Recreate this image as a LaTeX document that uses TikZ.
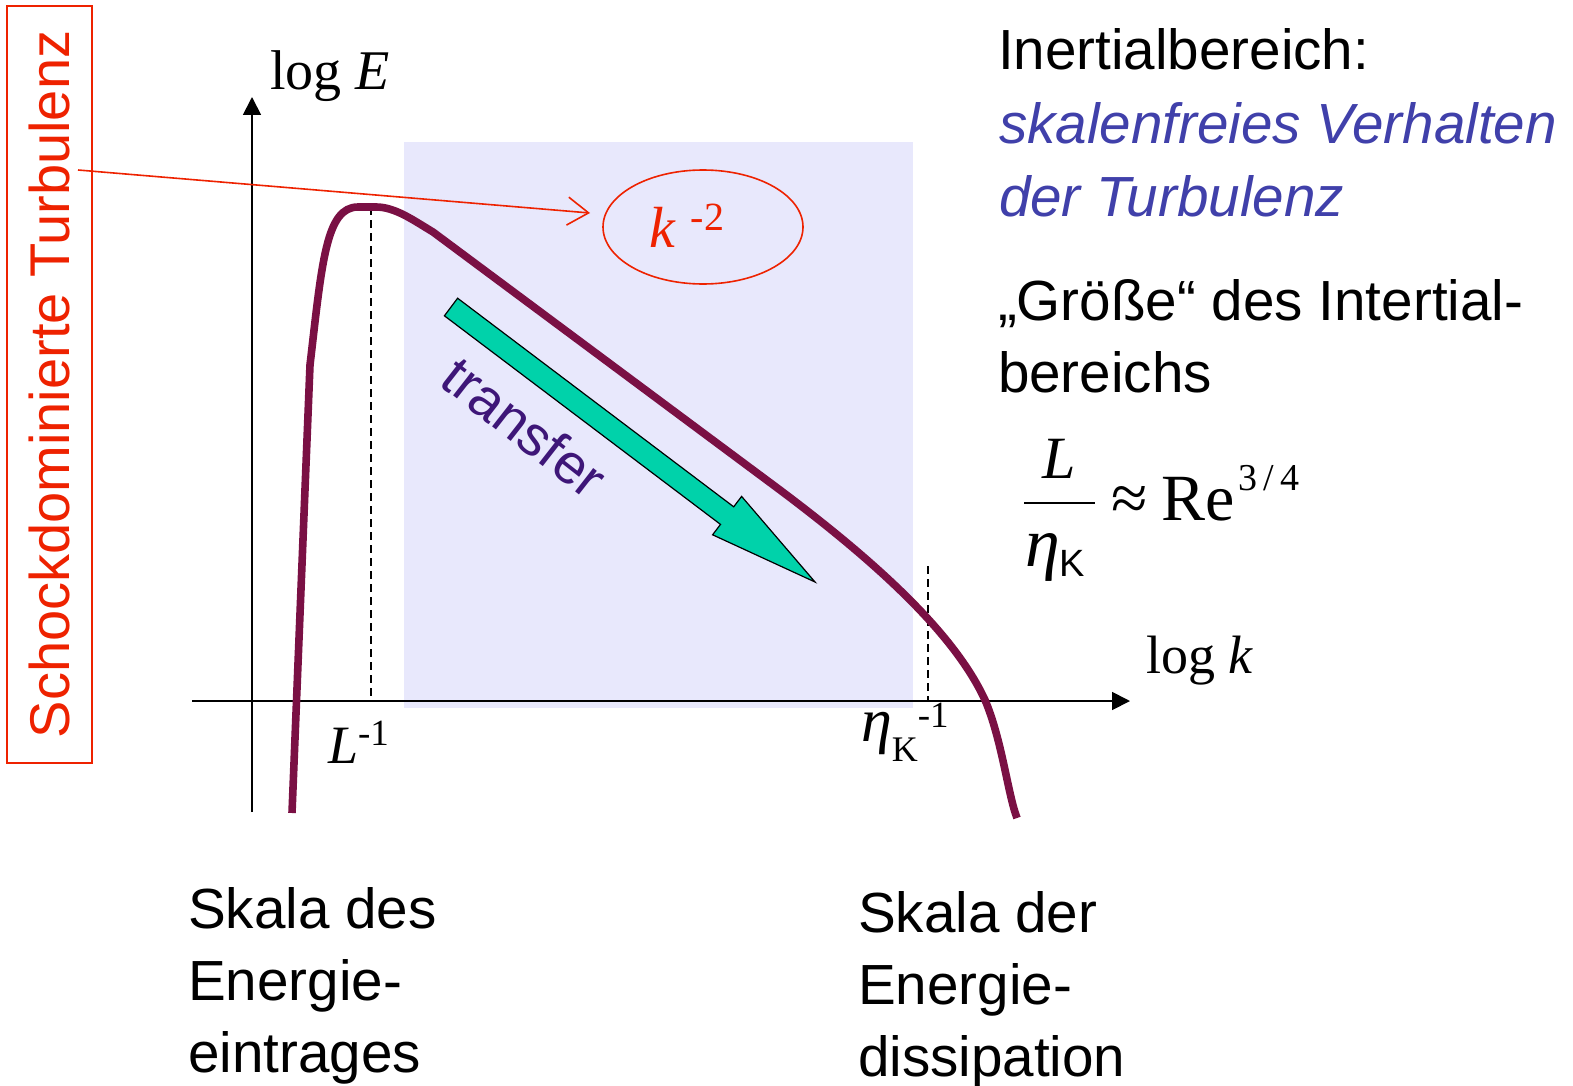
\documentclass[tikz,border=0pt]{standalone}
\usepackage{fontspec}
\setmainfont{Liberation Sans}
\newfontfamily\tnr{Liberation Serif}
\usetikzlibrary{arrows.meta,shapes.geometric}
\definecolor{redc}{RGB}{238,34,0}
\definecolor{curvec}{RGB}{122,16,68}
\definecolor{lav}{RGB}{232,232,252}
\definecolor{tealc}{RGB}{0,210,170}
\definecolor{purp}{RGB}{62,22,120}
\definecolor{blu}{RGB}{64,64,170}
\begin{document}
\begin{tikzpicture}[x=0.5pt,y=-0.5pt,
  txt/.style={inner sep=0pt,outer sep=0pt,anchor=base west},
  sans28/.style={font=\fontsize{28.3}{34}\selectfont},
  axisline/.style={line width=0.9pt,-{Triangle[length=9pt,width=9pt]}},
  dashline/.style={line width=0.6pt,dash pattern=on 4pt off 2.5pt}]
\useasboundingbox (0,0) rectangle (1573,1086);
\fill[white] (0,0) rectangle (1573,1086);
% inertial range background
\fill[lav] (404,142) rectangle (913,708);
% axes
\coordinate (yb) at (252,812);
\coordinate (yt) at (252,97);
\coordinate (xl) at (192,701);
\coordinate (xr) at (1130,701);
\draw[axisline] (yb) -- (yt);
\draw[axisline] (xl) -- (xr);
% dashed markers
\coordinate (d1t) at (371,207);
\coordinate (d1b) at (371,701);
\coordinate (d2t) at (928,566);
\coordinate (d2b) at (928,701);
\draw[dashline] (d1t) -- (d1b);
\draw[dashline] (d2t) -- (d2b);
% spectrum curve
\draw[curvec,line width=3.8pt,line cap=butt,line join=round]
  (292,813) -- (310,365) .. controls (322,262) and (326,207) .. (358,207)
  -- (376,207) .. controls (395,207) and (413,220) .. (433,232)
  -- (780,490) .. controls (880,565) and (955,635) .. (985,700)
  .. controls (1002,740) and (1008,795) .. (1017,818);
% transfer arrow
\filldraw[fill=tealc,draw=black,line width=0.6pt,line join=miter]
  (457.6,298.2) -- (733.7,506.8) -- (741.6,496.4) -- (815,582) -- (712.6,534.8) -- (720.5,524.4) -- (444.4,315.8) -- cycle;
\node[rotate=-38,text=purp,inner sep=0pt,font=\fontsize{28}{28}\selectfont] (transfer) at (525,427) {transfer};
% red box with rotated text
\node[rotate=90,draw=redc,line width=0.8pt,text=redc,minimum width=378.5pt,minimum height=42.5pt,inner sep=0pt,font=\fontsize{28}{28}\selectfont] (shock) at (49.5,384.5) {Schockdominierte Turbulenz};
% ellipse with k^-2
\node[ellipse,draw=redc,line width=0.8pt,minimum width=100pt,minimum height=57pt,inner sep=0pt] (ell) at (703,227) {};
\node[txt,text=redc] (kexp) at (649,247) {\tnr\fontsize{29}{29}\selectfont\itshape k\hspace{8pt}\upshape\raisebox{8.5pt}{\fontsize{20}{20}\selectfont -2}};
% red pointer
\coordinate (src) at (78,170);
\coordinate (tgt) at (590,213);
\draw[redc,line width=0.8pt,-{Straight Barb[length=10.5pt,width=14pt]}] (src) -- (tgt);
% axis labels
\node[txt] (logE) at (270,90) {\tnr\fontsize{28}{28}\selectfont log \textit{E}};
\node[txt] (logk) at (1146,673) {\tnr\fontsize{27}{27}\selectfont log \textit{k}};
\node[txt] (Linv) at (328,763) {\tnr\fontsize{27}{27}\selectfont\textit{L}\raisebox{9pt}{\fontsize{18.5}{18}\selectfont -1}};
\node[txt] (etainv) at (861,741) {\tnr\fontsize{31}{31}\selectfont\textit{η}\raisebox{-10pt}{\fontsize{18}{18}\selectfont K}\raisebox{7pt}{\fontsize{18.5}{18}\selectfont -1}};
% right-hand text
\node[txt,sans28] (t1) at (998,70) {Inertialbereich:};
\node[txt,sans28,text=blu,font=\fontsize{28.3}{34}\selectfont\itshape] (t2) at (999,143) {skalenfreies Verhalten};
\node[txt,sans28,text=blu,font=\fontsize{28.3}{34}\selectfont\itshape] (t3) at (999,216) {der Turbulenz};
\node[txt,sans28] (t4) at (998,320) {„Größe“ des Intertial-};
\node[txt,sans28] (t5) at (998,392) {bereichs};
% formula
\node[txt] (fL) at (1042,478) {\tnr\fontsize{30}{30}\selectfont\itshape L};
\coordinate (barl) at (1024,503);
\coordinate (barr) at (1095,503);
\draw[line width=1.2pt] (barl) -- (barr);
\node[txt] (feta) at (1025,566) {\tnr\fontsize{35}{35}\selectfont\itshape η\upshape\raisebox{-5pt}{\rmfamily\fontsize{19}{19}\selectfont K}};
\node[txt] (fre) at (1111,520) {\tnr\fontsize{33}{33}\selectfont ≈\hspace{7pt}Re\hspace{2pt}\raisebox{15pt}{\fontsize{19}{19}\selectfont 3\hspace{3pt}/\hspace{3pt}4}};
% bottom labels
\node[txt,sans28] (b1) at (188,928) {Skala des};
\node[txt,sans28] (b2) at (188,1000) {Energie-};
\node[txt,sans28] (b3) at (188,1072) {eintrages};
\node[txt,sans28] (b4) at (858,932) {Skala der};
\node[txt,sans28] (b5) at (858,1004) {Energie-};
\node[txt,sans28] (b6) at (858,1076) {dissipation};
\end{tikzpicture}
\end{document}
